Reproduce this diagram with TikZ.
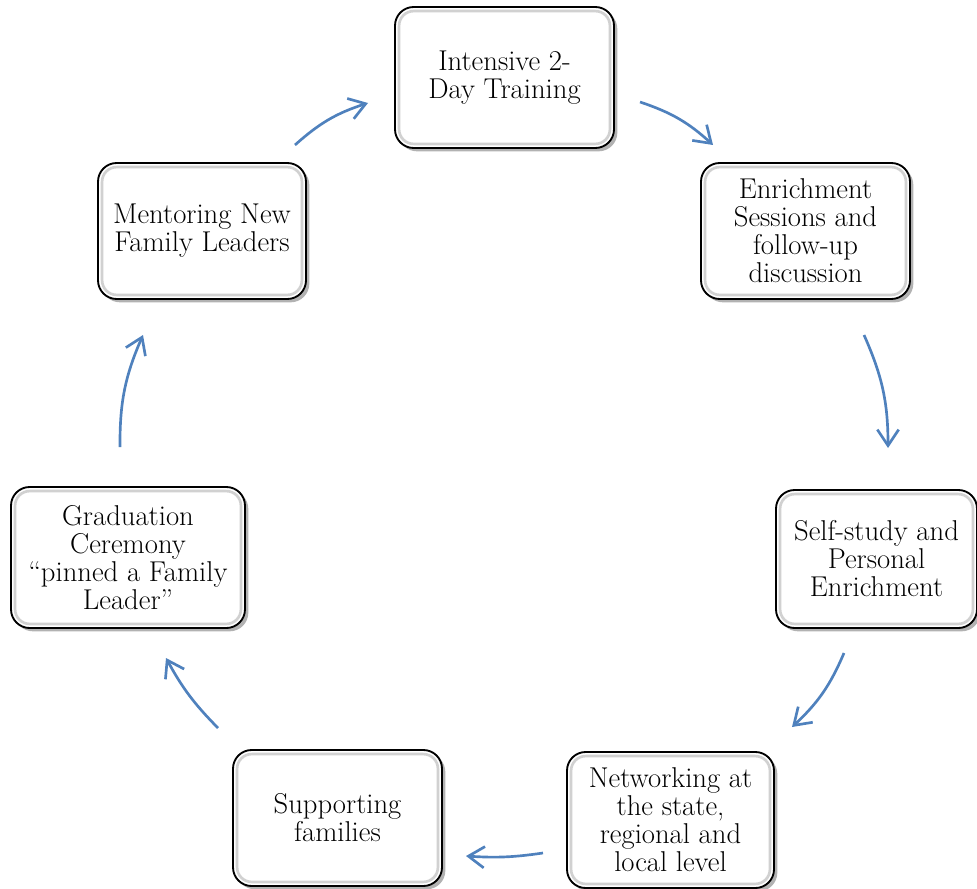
\documentclass[tikz,border=0pt]{standalone}
\usetikzlibrary{arrows.meta,shadows}
\definecolor{arrowblue}{HTML}{4F81BD}
\newcommand\innerband[1]{\draw[black!18, line width=2pt, rounded corners=11pt] ([shift={(5,5)}]#1.north west) rectangle ([shift={(-5,-5)}]#1.south east);}
\begin{document}
\begin{tikzpicture}[x=0.75pt,y=-0.75pt,
  box/.style={draw=black, line width=1.4pt, rounded corners=14pt, fill=white,
    align=center, inner sep=0pt, font=\fontsize{21.5}{21}\selectfont,
    drop shadow={shadow xshift=2.5pt, shadow yshift=-2.5pt, fill=black!30, opacity=1}},
  flow/.style={draw=arrowblue, line width=2pt,
    -{Straight Barb[length=12pt,width=16pt,line width=2pt]}},
]
\useasboundingbox (0,0) rectangle (977,888);

\node[box, minimum width=164.25pt, minimum height=105.75pt] (b1) at (504.5,77.5) {Intensive 2-\\Day Training};
\node[box, minimum width=156.75pt, minimum height=102pt] (b2) at (805.5,231) {Enrichment\\Sessions and\\follow-up\\discussion};
\node[box, minimum width=150.75pt, minimum height=103.5pt] (b3) at (876.5,559) {Self-study and\\Personal\\Enrichment};
\node[box, minimum width=155.25pt, minimum height=102pt] (b4) at (670.5,820) {Networking at\\the state,\\regional and\\local level};
\node[box, minimum width=156.75pt, minimum height=102pt] (b5) at (337.5,818) {Supporting\\families};
\node[box, minimum width=175.5pt, minimum height=105.75pt] (b6) at (128,557.5) {Graduation\\Ceremony\\``pinned a Family\\Leader''};
\node[box, minimum width=156pt, minimum height=102pt] (b7) at (202,231) {Mentoring New\\Family Leaders};

\foreach \n in {b1,b2,b3,b4,b5,b6,b7} {\innerband{\n}}

\coordinate (a1s) at (640,102); \coordinate (a1e) at (713,145);
\coordinate (a2s) at (864,335); \coordinate (a2e) at (888,448);
\coordinate (a3s) at (844,653); \coordinate (a3e) at (792,727);
\coordinate (a4s) at (543,853); \coordinate (a4e) at (466,856);
\coordinate (a5s) at (218,728); \coordinate (a5e) at (166,658);
\coordinate (a6s) at (120,447); \coordinate (a6e) at (143,335);
\coordinate (a7s) at (295,145); \coordinate (a7e) at (368,103);

\draw[flow] (a1s) to[bend left=12] (a1e);
\draw[flow] (a2s) to[bend left=12] (a2e);
\draw[flow] (a3s) to[bend left=12] (a3e);
\draw[flow] (a4s) to[bend left=6] (a4e);
\draw[flow] (a5s) to[bend left=8] (a5e);
\draw[flow] (a6s) to[bend left=12] (a6e);
\draw[flow] (a7s) to[bend left=12] (a7e);
\end{tikzpicture}
\end{document}
